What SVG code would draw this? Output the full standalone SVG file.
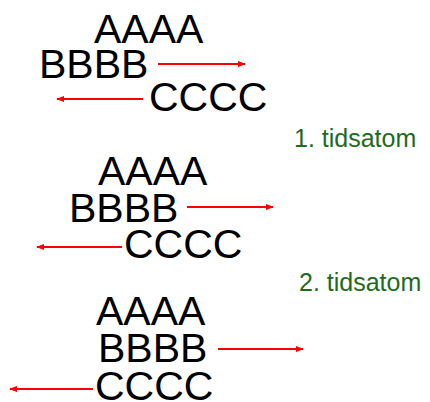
<svg xmlns="http://www.w3.org/2000/svg" width="430" height="402" viewBox="0 0 430 402">
<defs>
<marker id="ah" markerWidth="8" markerHeight="6" refX="7" refY="3" orient="auto" markerUnits="userSpaceOnUse">
<path d="M0,0 L8,3 L0,6 Z" fill="#ff0000"/>
</marker>
<style>
.big{font-family:"Liberation Sans",Arial,sans-serif;font-size:41px;fill:#000}
.lbl{font-family:"Liberation Sans",Arial,sans-serif;font-size:25px;fill:#1e6b1e}
.arr{stroke:#ff0000;stroke-width:2;fill:none;marker-end:url(#ah)}
</style>
</defs>
<rect width="430" height="402" fill="#fff"/>
<g id="step0">
<text class="big" x="94" y="43">AAAA</text>
<text class="big" x="39" y="78">BBBB</text>
<text class="big" x="149" y="111">CCCC</text>
</g>
<g id="label1"><text class="lbl" x="294" y="147">1. tidsatom</text></g>
<g id="step1">
<text class="big" x="98" y="185">AAAA</text>
<text class="big" x="69" y="222">BBBB</text>
<text class="big" x="124" y="258">CCCC</text>
</g>
<g id="label2"><text class="lbl" x="299" y="291">2. tidsatom</text></g>
<g id="step2">
<text class="big" x="96" y="325">AAAA</text>
<text class="big" x="98" y="362">BBBB</text>
<text class="big" x="95" y="400">CCCC</text>
</g>
<g id="connectors">
<line class="arr" x1="158" y1="64" x2="245" y2="64"/>
<line class="arr" x1="143" y1="99" x2="57" y2="99"/>
<line class="arr" x1="187" y1="207" x2="273" y2="207"/>
<line class="arr" x1="122" y1="247" x2="37" y2="247"/>
<line class="arr" x1="218" y1="349" x2="303" y2="349"/>
<line class="arr" x1="93" y1="389" x2="10" y2="389"/>
</g>
</svg>
